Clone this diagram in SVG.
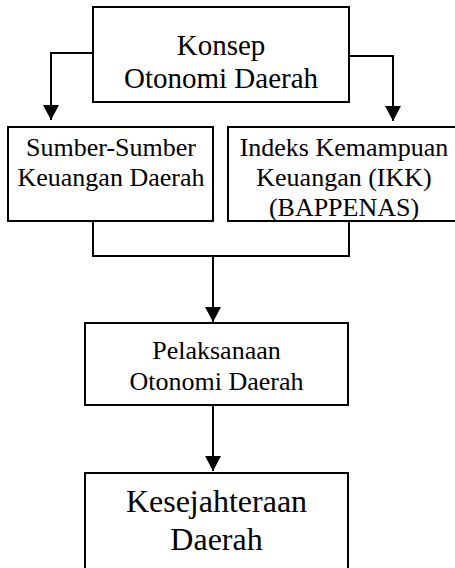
<svg xmlns="http://www.w3.org/2000/svg" width="455" height="568" viewBox="0 0 455 568">
<style>
.box{fill:#fff;stroke:#000;stroke-width:2}
.t{font-family:"Liberation Serif","Times New Roman",serif;fill:#000;text-anchor:middle}
.c{fill:none;stroke:#000;stroke-width:2}
</style>
<defs>
<marker id="ah" markerUnits="userSpaceOnUse" markerWidth="16" markerHeight="16" viewBox="0 0 16 16" refX="15" refY="8" orient="auto">
<path d="M0,0 L15,8 L0,16 Z" fill="#000"/>
</marker>
</defs>
<rect width="455" height="568" fill="#fff"/>
<g id="connectors">
<path class="c" d="M93,53 H51 V120" marker-end="url(#ah)"/>
<path class="c" d="M349,56 H393 V121" marker-end="url(#ah)"/>
<path class="c" d="M93,221 V256 H349 V221"/>
<path class="c" d="M213,256 V322" marker-end="url(#ah)"/>
<path class="c" d="M213,405 V471" marker-end="url(#ah)"/>
</g>
<g id="konsep">
<rect class="box" x="93" y="7" width="256" height="95"/>
<text class="t" x="221" y="55" font-size="29">Konsep</text>
<text class="t" x="221" y="88" font-size="29">Otonomi Daerah</text>
</g>
<g id="sumber">
<rect class="box" x="8" y="127" width="205" height="94"/>
<text class="t" x="111" y="156" font-size="26">Sumber-Sumber</text>
<text class="t" x="111" y="186" font-size="26">Keuangan Daerah</text>
</g>
<g id="ikk">
<rect class="box" x="228" y="127" width="240" height="94"/>
<text class="t" x="344" y="156" font-size="26">Indeks Kemampuan</text>
<text class="t" x="344" y="186" font-size="26">Keuangan (IKK)</text>
<text class="t" x="344" y="216" font-size="26">(BAPPENAS)</text>
</g>
<g id="pelaksanaan">
<rect class="box" x="85" y="323" width="263" height="82"/>
<text class="t" x="216.5" y="359" font-size="26">Pelaksanaan</text>
<text class="t" x="216.5" y="390" font-size="26">Otonomi Daerah</text>
</g>
<g id="kesejahteraan">
<rect class="box" x="85" y="473" width="263" height="110"/>
<text class="t" x="216.5" y="512" font-size="32">Kesejahteraan</text>
<text class="t" x="216.5" y="550" font-size="32">Daerah</text>
</g>
</svg>
